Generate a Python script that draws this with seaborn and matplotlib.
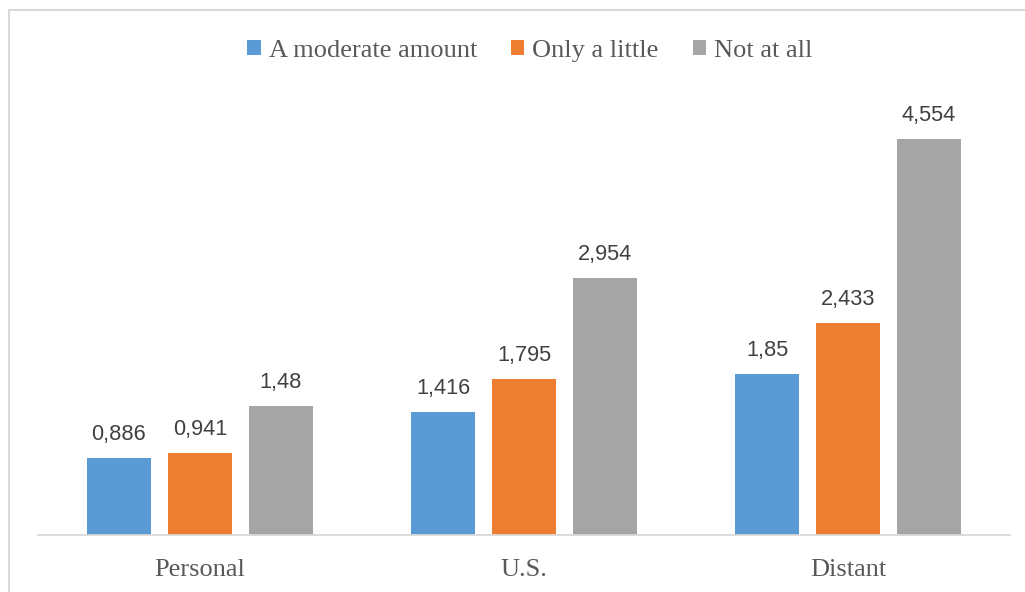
import matplotlib
matplotlib.use("Agg")
import matplotlib.pyplot as plt
import seaborn as sns
import pandas as pd
from matplotlib.patches import Rectangle

categories = ["Personal", "U.S.", "Distant"]
series = ["A moderate amount", "Only a little", "Not at all"]
moderate = [0.886, 1.416, 1.85]
little = [0.941, 1.795, 2.433]
not_at_all = [1.48, 2.954, 4.554]
colors = ["#5B9BD5", "#ED7D31", "#A5A5A5"]

rows = []
for s, vals in zip(series, [moderate, little, not_at_all]):
    for c, v in zip(categories, vals):
        rows.append({"category": c, "series": s, "value": v})
df = pd.DataFrame(rows)

sns.set_theme(style="white")
plt.rcParams["font.family"] = ["Liberation Serif", "DejaVu Serif"]

W, H = 1025, 592
fig = plt.figure(figsize=(W / 100, H / 100), dpi=100)
ax = fig.add_axes([38 / W, 57 / H, 972 / W, 435 / H])

sns.barplot(data=df, x="category", y="value", hue="series", order=categories,
            hue_order=series, palette=colors, width=0.75, gap=0.2,
            saturation=1, ax=ax, errorbar=None, edgecolor="none")

ax.set_ylim(0, 5)
ax.set_xlim(-0.5, 2.5)
ax.set_xlabel("")
ax.set_ylabel("")
ax.set_yticks([])
for sp in ["top", "left", "right"]:
    ax.spines[sp].set_visible(False)
ax.spines["bottom"].set_color("#D9D9D9")
ax.spines["bottom"].set_linewidth(1.3)
ax.tick_params(axis="x", length=0, pad=17, labelsize=19, labelcolor="#595959")

for cont in ax.containers:
    labels = [f"{b.get_height():g}".replace(".", ",") for b in cont]
    ax.bar_label(cont, labels=labels, padding=9.5, fontsize=15.7,
                 color="#404040", family=["Liberation Sans", "DejaVu Sans"])

handles, labs = ax.get_legend_handles_labels()
ax.get_legend().remove()
fig.legend(handles, labs, loc="center", bbox_to_anchor=(530 / W, 1 - 51 / H),
           ncol=3, frameon=False, fontsize=19, labelcolor="#595959",
           handlelength=0.5, handleheight=0.5, handletextpad=0.3,
           columnspacing=1.3, borderaxespad=0)

fig.patches.append(Rectangle((8.5 / W, -0.1), 1.2, (H - 9.5) / H + 0.1,
                             transform=fig.transFigure, fill=False,
                             edgecolor="#D9D9D9", linewidth=1.5))

fig.savefig("out.png", dpi=100)
